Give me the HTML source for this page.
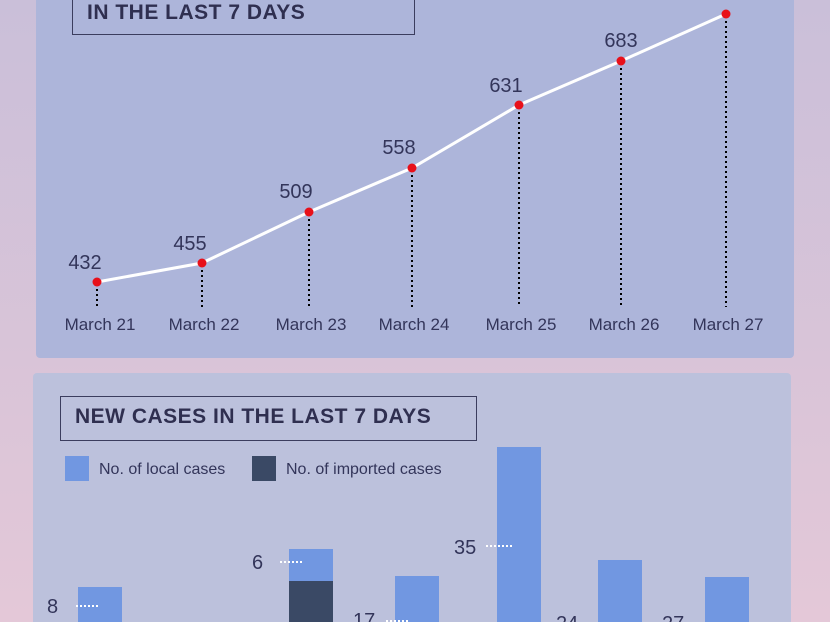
<!DOCTYPE html>
<html style="overflow:hidden;height:622px"><head><style>
body{margin:0;width:830px;height:622px;overflow:hidden;background:linear-gradient(#cabfd9,#e4c8d8);font-family:"Liberation Sans",sans-serif;position:relative}
.p{position:absolute}
</style></head><body>
<div class="p" style="left:36px;top:-10px;width:758px;height:368px;background:#adb5da;border-radius:4px"></div>
<div class="p" style="left:33px;top:373px;width:758px;height:249px;background:#bcc1dc;border-radius:4px 4px 0 0"></div>
<div class="p" style="left:72px;top:-10px;width:341px;height:43px;border:1.5px solid #3b3d5e"></div>
<div class="p" style="left:87px;top:1px;font-weight:bold;font-size:21px;color:#2f2f50;letter-spacing:0.5px">IN THE LAST 7 DAYS</div>
<div class="p" style="left:60px;top:396px;width:415px;height:43px;border:1.5px solid #3b3d5e"></div>
<div class="p" style="left:75px;top:405px;font-weight:bold;font-size:21px;color:#2f2f50;letter-spacing:0.5px">NEW CASES IN THE LAST 7 DAYS</div>
<svg class="p" style="left:0;top:0" width="830" height="622">
<g stroke="#000" stroke-width="2" stroke-dasharray="2,3">
<line x1="97" y1="284" x2="97" y2="307"/><line x1="202" y1="265" x2="202" y2="307"/><line x1="309" y1="214" x2="309" y2="307"/><line x1="412" y1="170" x2="412" y2="307"/><line x1="519" y1="107" x2="519" y2="307"/><line x1="621" y1="63" x2="621" y2="307"/><line x1="726" y1="16" x2="726" y2="307"/>
</g>
<polyline points="97,282 202,263 309,212 412,168 519,105 621,61 726,14" fill="none" stroke="#fff" stroke-width="3"/>
<g fill="#e8101a"><circle cx="97" cy="282" r="4.5"/><circle cx="202" cy="263" r="4.5"/><circle cx="309" cy="212" r="4.5"/><circle cx="412" cy="168" r="4.5"/><circle cx="519" cy="105" r="4.5"/><circle cx="621" cy="61" r="4.5"/><circle cx="726" cy="14" r="4.5"/></g>
<g font-family="Liberation Sans" font-size="20" fill="#33355a" text-anchor="middle">
<text x="85" y="269">432</text><text x="190" y="250">455</text><text x="296" y="198">509</text><text x="399" y="154">558</text><text x="506" y="92">631</text><text x="621" y="47">683</text>
</g>
<g font-family="Liberation Sans" font-size="17" fill="#33355a" text-anchor="middle">
<text x="100" y="330">March 21</text><text x="204" y="330">March 22</text><text x="311" y="330">March 23</text><text x="414" y="330">March 24</text><text x="521" y="330">March 25</text><text x="624" y="330">March 26</text><text x="728" y="330">March 27</text>
</g>
<rect x="65" y="456" width="24" height="25" fill="#7197e1"/>
<rect x="252" y="456" width="24" height="25" fill="#3a4965"/>
<g font-family="Liberation Sans" font-size="16" fill="#33355a"><text x="99" y="474">No. of local cases</text><text x="286" y="474">No. of imported cases</text></g>
<g fill="#7197e1">
<rect x="78" y="587" width="44" height="40"/><rect x="289" y="549" width="44" height="80"/><rect x="395" y="576" width="44" height="50"/><rect x="497" y="447" width="44" height="180"/><rect x="598" y="560" width="44" height="70"/><rect x="705" y="577" width="44" height="50"/>
</g>
<rect x="289" y="581" width="44" height="45" fill="#3a4965"/>
<g stroke="#fff" stroke-width="2" stroke-dasharray="2,2">
<line x1="76" y1="606" x2="100" y2="606"/><line x1="280" y1="562" x2="304" y2="562"/><line x1="386" y1="621" x2="410" y2="621"/><line x1="486" y1="546" x2="513" y2="546"/>
</g>
<g font-family="Liberation Sans" font-size="20" fill="#33355a">
<text x="47" y="613">8</text><text x="252" y="569">6</text><text x="353" y="627">17</text><text x="454" y="554">35</text><text x="556" y="630">24</text><text x="662" y="630">27</text>
</g>
</svg>
</body></html>
